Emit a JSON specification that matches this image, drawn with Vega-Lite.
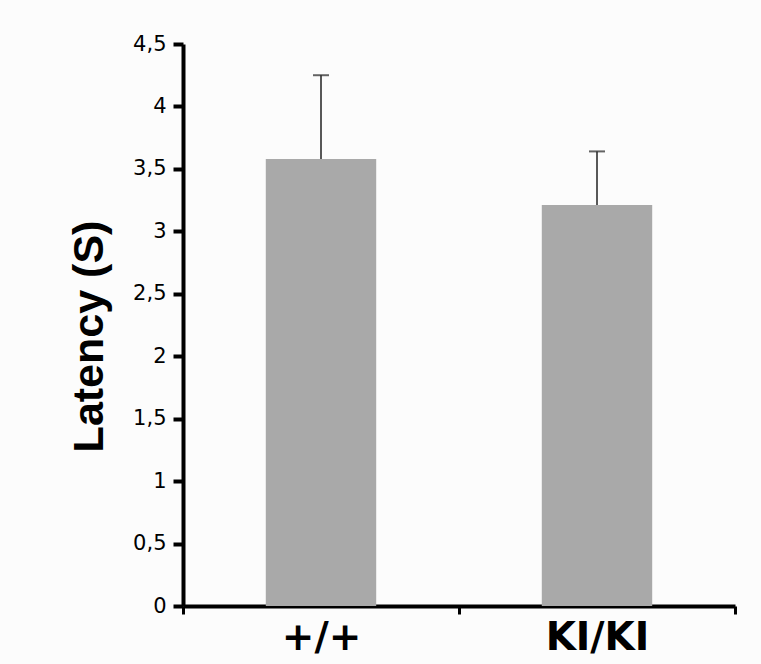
{
  "$schema": "https://vega.github.io/schema/vega-lite/v6.json",
  "width": 552,
  "height": 562,
  "autosize": "none",
  "padding": {"left": 183, "top": 44, "right": 26, "bottom": 58},
  "background": "#fcfcfc",
  "config": {"view": {"stroke": null}},
  "data": {
    "values": [
      {"genotype": "+/+", "latency": 3.58, "upper": 4.25},
      {"genotype": "KI/KI", "latency": 3.21, "upper": 3.64}
    ]
  },
  "encoding": {
    "x": {
      "field": "genotype",
      "type": "nominal",
      "sort": null,
      "scale": {"paddingInner": 0, "paddingOuter": 0},
      "axis": {
        "title": null,
        "labelAngle": 0,
        "labelFont": "DejaVu Sans",
        "labelFontWeight": "bold",
        "labelFontSize": 39,
        "labelColor": "#000",
        "labelPadding": 4,
        "domainColor": "#000",
        "domainWidth": 4,
        "tickColor": "#000",
        "tickWidth": 3,
        "tickSize": 8,
        "tickBand": "extent"
      }
    }
  },
  "layer": [
    {
      "mark": {"type": "bar", "color": "#a9a9a9", "width": {"band": 0.4}},
      "encoding": {
        "y": {
          "field": "latency",
          "type": "quantitative",
          "scale": {"domain": [0, 4.5], "nice": false},
          "axis": {
            "title": "Latency (S)",
            "titleFont": "Liberation Sans",
            "titleFontWeight": "bold",
            "titleFontSize": 43,
            "titleColor": "#000",
            "titlePadding": 21,
            "titleY": 292,
            "values": [0, 0.5, 1, 1.5, 2, 2.5, 3, 3.5, 4, 4.5],
            "labelExpr": "replace(toString(datum.value), '.', ',')",
            "labelFont": "DejaVu Sans",
            "labelFontSize": 21,
            "labelColor": "#000",
            "labelPadding": 7,
            "grid": false,
            "domainColor": "#000",
            "domainWidth": 4,
            "tickColor": "#000",
            "tickWidth": 4,
            "tickSize": 10
          }
        }
      }
    },
    {
      "mark": {"type": "rule", "color": "#222", "strokeWidth": 1.5},
      "encoding": {
        "y": {"field": "latency", "type": "quantitative"},
        "y2": {"field": "upper"}
      }
    },
    {
      "mark": {"type": "tick", "color": "#222", "size": 16, "thickness": 2},
      "encoding": {
        "y": {"field": "upper", "type": "quantitative"}
      }
    }
  ]
}
